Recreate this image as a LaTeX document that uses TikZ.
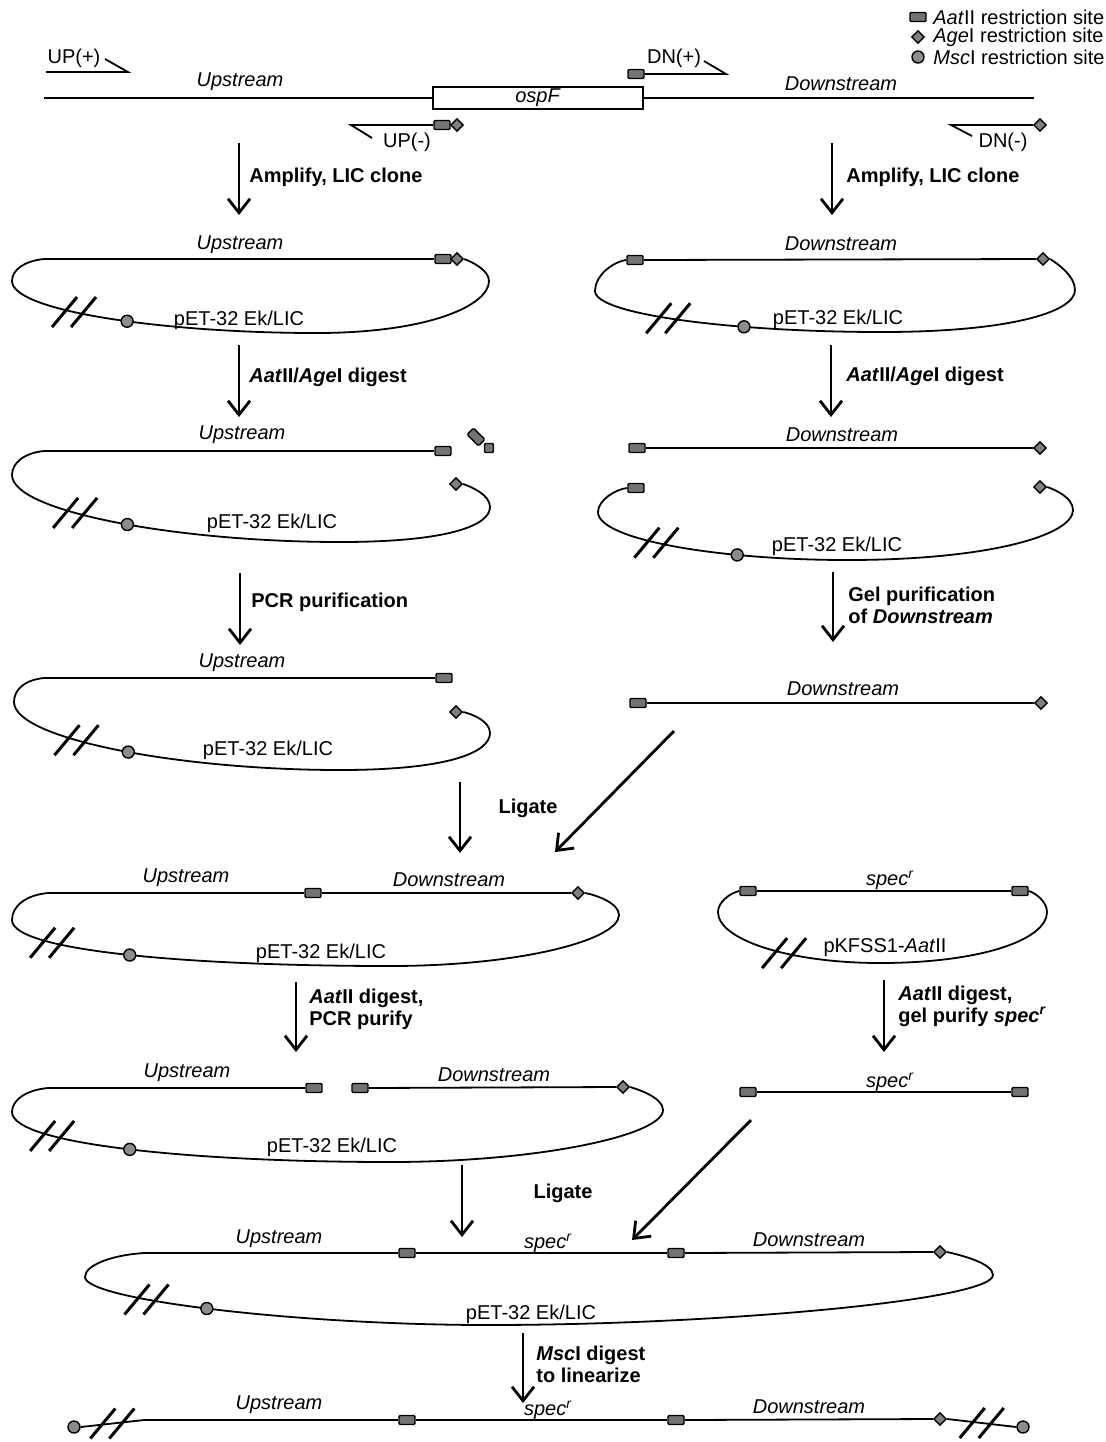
\documentclass[tikz,border=0pt]{standalone}
\usepackage{fontspec}
\setmainfont{Liberation Sans}
\usetikzlibrary{arrows.meta,shapes.geometric}

\begin{document}
\begin{tikzpicture}[x=0.5pt, y=-0.5pt,
    every node/.style={font=\fontsize{10}{11}\selectfont, inner sep=0pt},
    adn/.style={line width=0.9pt},
    aat/.style={draw, line width=0.7pt, fill=black!55, rectangle, rounded corners=0.6pt, minimum width=8pt, minimum height=4.5pt},
    age/.style={draw, line width=0.7pt, fill=black!50, diamond, minimum size=6.5pt},
    msc/.style={draw, line width=0.7pt, fill=black!45, circle, minimum size=6pt},
    etq/.style={font=\fontsize{10}{11}\selectfont\itshape},
    paso/.style={font=\fontsize{10}{11}\selectfont\bfseries, anchor=west, align=left},
    flecha/.style={line width=1.4pt, -{Straight Barb[length=7pt, width=11pt, line width=1.4pt]}},
    corte/.pic={\draw[line width=1.5pt] (-22,15) -- (3,-15) (-3,15) -- (22,-15);}]

    \useasboundingbox (0,0) rectangle (1106,1442);

    % Leyenda
    \node[aat] (la) at (918,17) {};
    \node[anchor=west] (lat) at (933,17) {\textit{Aat}II restriction site};
    \node[age] (lg) at (918,37) {};
    \node[anchor=west] (lgt) at (933,37) {\textit{Age}I restriction site};
    \node[msc] (lm) at (918,57) {};
    \node[anchor=west] (lmt) at (933,57) {\textit{Msc}I restriction site};

    % Region genomica con ospF y cebadores
    \node[draw, line width=0.8pt, minimum width=105pt, minimum height=11pt] (osp) at (538,98) {\textit{ospF}};
    \coordinate (g0) at (44,98);
    \coordinate (g1) at (1034,98);
    \draw[adn] (g0) -- (osp.west);
    \draw[adn] (osp.east) -- (g1);
    \node[etq] (gu) at (240,82) {Upstream};
    \node[etq] (gd) at (841,84) {Downstream};
    \draw[adn] (46,72) -- (128,72) -- (105,59);
    \node (up1t) at (74,58) {UP(+)};
    \node[aat] (dn1a) at (636,74) {};
    \draw[adn] (dn1a.east) -- (726,74) -- (704,61);
    \node (dn1t) at (674,58) {DN(+)};
    \node[aat] (up2a) at (442,125) {};
    \node[age] (up2g) at (457,125) {};
    \draw[adn] (372,138) -- (351,125) -- (up2a.west);
    \node (up2t) at (407,142) {UP(-)};
    \node[age] (dn2g) at (1040,125) {};
    \draw[adn] (972,136) -- (951,125) -- (dn2g.west);
    \node (dn2t) at (1003,142) {DN(-)};

    % Paso 1
    \coordinate (f1a) at (239,143);
    \coordinate (f1b) at (239,215);
    \draw[flecha] (f1a) -- (f1b);
    \node[paso] (f1t) at (249,177) {Amplify, LIC clone};
    \coordinate (f1c) at (832,143);
    \coordinate (f1d) at (832,215);
    \draw[flecha] (f1c) -- (f1d);
    \node[paso] (f1u) at (846,177) {Amplify, LIC clone};

    % Plasmido Upstream
    \coordinate (p1i) at (44,259);
    \node[aat] (p1a) at (443,259) {};
    \node[age] (p1g) at (457,259) {};
    \draw[adn] (p1i) -- (p1a.west);
    \draw[adn] (p1i) .. controls (24,261) and (12,270) .. (12,281)
        .. controls (12,312) and (170,333) .. (316,333) coordinate[pos=0.39] (p1m) coordinate[pos=0.55] (p1c)
        .. controls (430,333) and (489,305) .. (489,281)
        .. controls (489,270) and (472,262) .. (p1g.east);
    \pic at (p1m) {corte};
    \node[msc] (p1s) at (p1c) {};
    \node[etq] (p1u) at (240,245) {Upstream};
    \node (p1l) at (239,320) {pET-32 Ek/LIC};

    % Plasmido Downstream
    \node[aat] (p2a) at (635,260) {};
    \node[age] (p2g) at (1043,259) {};
    \draw[adn] (p2a.east) -- (p2g.west);
    \draw[adn] (p2a.west) .. controls (612,262) and (595,276) .. (595,291)
        .. controls (595,315) and (736,332) .. (882,332) coordinate[pos=0.45] (p2m) coordinate[pos=0.67] (p2c)
        .. controls (1010,332) and (1075,312) .. (1075,290)
        .. controls (1075,276) and (1058,264) .. (p2g.east);
    \pic at (p2m) {corte};
    \node[msc] (p2s) at (p2c) {};
    \node[etq] (p2u) at (841,244) {Downstream};
    \node (p2l) at (838,319) {pET-32 Ek/LIC};

    % Paso 2
    \coordinate (f2a) at (239,345);
    \coordinate (f2b) at (239,417);
    \draw[flecha] (f2a) -- (f2b);
    \node[paso] (f2t) at (249,377) {\textit{Aat}II/\textit{Age}I digest};
    \coordinate (f2c) at (831,345);
    \coordinate (f2d) at (831,417);
    \draw[flecha] (f2c) -- (f2d);
    \node[paso] (f2u) at (846,376) {\textit{Aat}II/\textit{Age}I digest};

    % Upstream digerido
    \coordinate (p3i) at (44,451);
    \node[aat] (p3a) at (443,451) {};
    \node[aat, rotate=-45] (p3f) at (476,437) {};
    \node[aat, minimum width=4.5pt] (p3h) at (489,448) {};
    \node[age] (p3g) at (456,484) {};
    \draw[adn] (p3i) -- (p3a.west);
    \draw[adn] (p3i) .. controls (24,453) and (12,463) .. (12,475)
        .. controls (12,512) and (180,542) .. (340,542) coordinate[pos=0.38] (p3m) coordinate[pos=0.53] (p3c)
        .. controls (450,542) and (490,525) .. (490,507)
        .. controls (490,495) and (472,487) .. (p3g.east);
    \pic at (p3m) {corte};
    \node[msc] (p3s) at (p3c) {};
    \node[etq] (p3u) at (242,435) {Upstream};
    \node (p3l) at (272,523) {pET-32 Ek/LIC};

    % Downstream digerido
    \node[aat] (d3a) at (637,448) {};
    \node[age] (d3g) at (1040,448) {};
    \draw[adn] (d3a.east) -- (d3g.west);
    \node[etq] (d3u) at (842,435) {Downstream};
    \node[aat] (p4a) at (636,488) {};
    \node[age] (p4g) at (1040,487) {};
    \draw[adn] (p4a.west) .. controls (616,489) and (598,500) .. (598,512)
        .. controls (598,540) and (720,560) .. (847,560) coordinate[pos=0.43] (p4m) coordinate[pos=0.7] (p4c)
        .. controls (990,560) and (1073,535) .. (1073,510)
        .. controls (1073,498) and (1056,490) .. (p4g.east);
    \pic at (p4m) {corte};
    \node[msc] (p4s) at (p4c) {};
    \node (p4l) at (837,546) {pET-32 Ek/LIC};

    % Paso 3
    \coordinate (f3a) at (240,573);
    \coordinate (f3b) at (240,645);
    \draw[flecha] (f3a) -- (f3b);
    \node[paso] (f3t) at (251,602) {PCR purification};
    \coordinate (f3c) at (833,572);
    \coordinate (f3d) at (833,642);
    \draw[flecha] (f3c) -- (f3d);
    \node[paso] (f3u) at (848,605) {Gel purification\\of \textit{Downstream}};

    % Upstream purificado
    \coordinate (p5i) at (44,678);
    \node[aat] (p5a) at (444,678) {};
    \node[age] (p5g) at (456,712) {};
    \draw[adn] (p5i) -- (p5a.west);
    \draw[adn] (p5i) .. controls (24,680) and (14,690) .. (14,702)
        .. controls (14,739) and (180,770) .. (340,770) coordinate[pos=0.38] (p5m) coordinate[pos=0.53] (p5c)
        .. controls (450,770) and (490,752) .. (490,733)
        .. controls (490,721) and (472,714) .. (p5g.east);
    \pic at (p5m) {corte};
    \node[msc] (p5s) at (p5c) {};
    \node[etq] (p5u) at (242,663) {Upstream};
    \node (p5l) at (268,750) {pET-32 Ek/LIC};

    % Downstream purificado
    \node[aat] (d4a) at (638,703) {};
    \node[age] (d4g) at (1041,703) {};
    \draw[adn] (d4a.east) -- (d4g.west);
    \node[etq] (d4u) at (843,689) {Downstream};

    % Ligacion 1
    \coordinate (f4a) at (460,782);
    \coordinate (f4b) at (460,853);
    \draw[flecha] (f4a) -- (f4b);
    \coordinate (f4c) at (674,731);
    \coordinate (f4d) at (555,852);
    \draw[flecha] (f4c) -- (f4d);
    \node[font=\fontsize{10}{11}\selectfont\bfseries] (f4t) at (528,808) {Ligate};

    % Plasmido Upstream-Downstream
    \coordinate (p6i) at (48,893);
    \node[aat] (p6a) at (313,893) {};
    \node[age] (p6g) at (578,893) {};
    \draw[adn] (p6i) -- (p6a.west);
    \draw[adn] (p6a.east) -- (p6g.west);
    \draw[adn] (p6i) .. controls (26,895) and (12,906) .. (12,920)
        .. controls (12,952) and (200,966) .. (390,966) coordinate[pos=0.28] (p6m) coordinate[pos=0.5] (p6c)
        .. controls (520,966) and (619,940) .. (619,915)
        .. controls (619,903) and (596,895) .. (p6g.east);
    \pic at (p6m) {corte};
    \node[msc] (p6s) at (p6c) {};
    \node[etq] (p6u) at (186,878) {Upstream};
    \node[etq] (p6d) at (449,880) {Downstream};
    \node (p6l) at (321,953) {pET-32 Ek/LIC};

    % pKFSS1-AatII
    \node[aat] (p7a) at (748,891) {};
    \node[aat] (p7b) at (1020,891) {};
    \draw[adn] (p7a.east) -- (p7b.west);
    \draw[adn] (p7a.west) .. controls (730,893) and (718,902) .. (718,912)
        .. controls (718,940) and (790,963) .. (880,963) coordinate[pos=0.6] (p7m)
        .. controls (980,963) and (1047,940) .. (1047,912)
        .. controls (1047,902) and (1036,893) .. (p7b.east);
    \pic at (p7m) {corte};
    \node[etq] (p7u) at (890,880) {spec\textsuperscript{r}};
    \node (p7l) at (885,948) {pKFSS1-\textit{Aat}II};

    % Paso 5
    \coordinate (f5a) at (296,982);
    \coordinate (f5b) at (296,1052);
    \draw[flecha] (f5a) -- (f5b);
    \node[paso] (f5t) at (309,1009) {\textit{Aat}II digest,\\PCR purify};
    \coordinate (f5c) at (884,980);
    \coordinate (f5d) at (884,1052);
    \draw[flecha] (f5c) -- (f5d);
    \node[paso] (f5u) at (898,1006) {\textit{Aat}II digest,\\gel purify \textit{spec}\textsuperscript{\textit{r}}};

    % Plasmido abierto con AatII
    \coordinate (p8i) at (48,1088);
    \node[aat] (p8a) at (314,1088) {};
    \node[aat] (p8b) at (360,1088) {};
    \node[age] (p8g) at (623,1087) {};
    \draw[adn] (p8i) -- (p8a.west);
    \draw[adn] (p8b.east) -- (p8g.west);
    \draw[adn] (p8i) .. controls (26,1090) and (12,1100) .. (12,1112)
        .. controls (12,1145) and (200,1162) .. (390,1162) coordinate[pos=0.28] (p8m) coordinate[pos=0.5] (p8c)
        .. controls (540,1162) and (663,1135) .. (663,1110)
        .. controls (663,1098) and (640,1090) .. (p8g.east);
    \pic at (p8m) {corte};
    \node[msc] (p8s) at (p8c) {};
    \node[etq] (p8u) at (187,1073) {Upstream};
    \node[etq] (p8d) at (494,1075) {Downstream};
    \node (p8l) at (332,1147) {pET-32 Ek/LIC};

    % Fragmento spec
    \node[aat] (s6a) at (748,1092) {};
    \node[aat] (s6b) at (1020,1092) {};
    \draw[adn] (s6a.east) -- (s6b.west);
    \node[etq] (s6u) at (890,1082) {spec\textsuperscript{r}};

    % Ligacion 2
    \coordinate (f6a) at (462,1165);
    \coordinate (f6b) at (462,1237);
    \draw[flecha] (f6a) -- (f6b);
    \coordinate (f6c) at (751,1120);
    \coordinate (f6d) at (632,1240);
    \draw[flecha] (f6c) -- (f6d);
    \node[font=\fontsize{10}{11}\selectfont\bfseries] (f6t) at (563,1193) {Ligate};

    % Plasmido final
    \coordinate (p9i) at (144,1253);
    \node[aat] (p9a) at (407,1253) {};
    \node[aat] (p9b) at (676,1253) {};
    \node[age] (p9g) at (940,1252) {};
    \draw[adn] (p9i) -- (p9a.west);
    \draw[adn] (p9a.east) -- (p9b.west);
    \draw[adn] (p9b.east) -- (p9g.west);
    \draw[adn] (p9i) .. controls (112,1255) and (85,1265) .. (85,1277)
        .. controls (85,1300) and (300,1325) .. (488,1325) coordinate[pos=0.33] (p9m) coordinate[pos=0.48] (p9c)
        .. controls (720,1325) and (993,1300) .. (993,1275)
        .. controls (993,1263) and (960,1255) .. (p9g.east);
    \pic at (p9m) {corte};
    \node[msc] (p9s) at (p9c) {};
    \node[etq] (p9u) at (279,1239) {Upstream};
    \node[etq] (p9e) at (548,1243) {spec\textsuperscript{r}};
    \node[etq] (p9d) at (809,1240) {Downstream};
    \node (p9l) at (531,1314) {pET-32 Ek/LIC};

    % Paso 7
    \coordinate (f7a) at (523,1333);
    \coordinate (f7b) at (523,1403);
    \draw[flecha] (f7a) -- (f7b);
    \node[paso] (f7t) at (536,1364) {\textit{Msc}I digest\\to linearize};

    % Producto lineal
    \node[msc] (l8c) at (74,1427) {};
    \coordinate (l8i) at (144,1420);
    \node[aat] (l8a) at (407,1420) {};
    \node[aat] (l8b) at (676,1420) {};
    \node[age] (l8g) at (940,1419) {};
    \node[msc] (l8d) at (1023,1427) {};
    \draw[adn] (l8c.east) -- (l8i) coordinate[pos=0.5] (l8m);
    \draw[adn] (l8i) -- (l8a.west);
    \draw[adn] (l8a.east) -- (l8b.west);
    \draw[adn] (l8b.east) -- (l8g.west);
    \draw[adn] (l8g.east) -- (l8d.west) coordinate[pos=0.5] (l8n);
    \pic at (l8m) {corte};
    \pic at (l8n) {corte};
    \node[etq] (l8u) at (279,1405) {Upstream};
    \node[etq] (l8e) at (548,1410) {spec\textsuperscript{r}};
    \node[etq] (l8w) at (809,1407) {Downstream};

\end{tikzpicture}
\end{document}
